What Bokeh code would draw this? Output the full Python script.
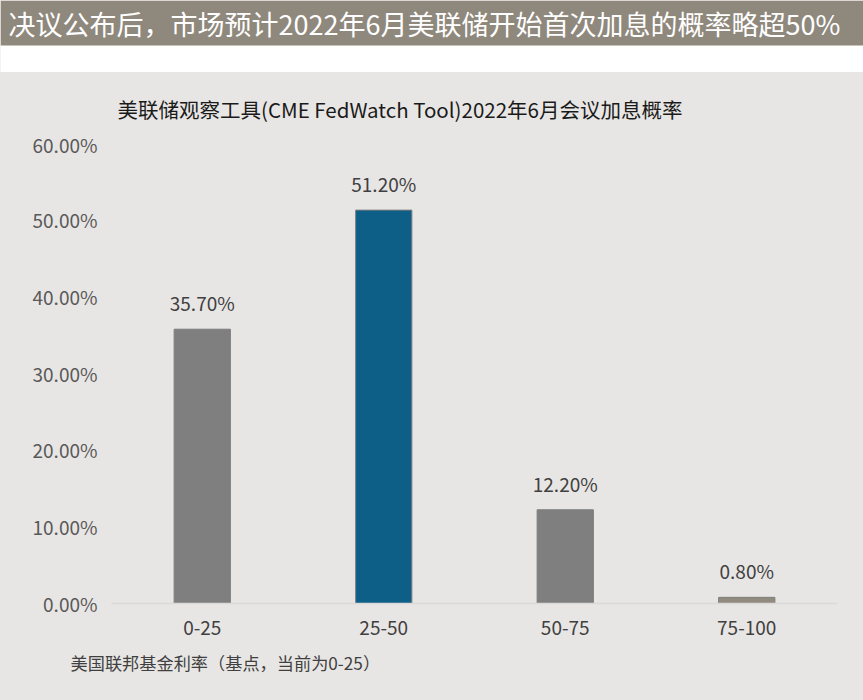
from bokeh.plotting import figure
from bokeh.layouts import column
from bokeh.models import ColumnDataSource, FactorRange, Range1d, NumeralTickFormatter, FixedTicker
from bokeh.core.properties import value
from bokeh.embed import file_html
from bokeh.resources import INLINE

banner_text = "决议公布后，市场预计2022年6月美联储开始首次加息的概率略超50%"
chart_title = "美联储观察工具(CME FedWatch Tool)2022年6月会议加息概率"
footnote = "美国联邦基金利率（基点，当前为0-25）"

categories = ["0-25", "25-50", "50-75", "75-100"]
probabilities = [0.357, 0.512, 0.122, 0.008]
bar_labels = ["35.70%", "51.20%", "12.20%", "0.80%"]
bar_colors = ["#7f7f7f", "#0e5f87", "#7f7f7f", "#918a7f"]
y_ticks = [0.0, 0.1, 0.2, 0.3, 0.4, 0.5, 0.6]

FONT = "Noto Sans CJK SC"
BG = "#e8e6e4"
W = 863


def strip(height, fill):
    f = figure(width=W, height=height, output_backend="svg", toolbar_location=None,
               x_range=Range1d(0, W), y_range=Range1d(height, 0),
               min_border_left=0, min_border_right=0, min_border_top=0, min_border_bottom=0,
               background_fill_color=fill, border_fill_color=fill, outline_line_color=None)
    f.axis.visible = False
    f.grid.visible = False
    return f


# Banner (brown band + white gap)
b = strip(72, "white")
b.quad(left=[0], right=[W], top=[0], bottom=[45], fill_color="#8f887d", line_color=None)
b.text(x=[8], y=[22.5], text=[banner_text], text_font=value(FONT), text_font_size="27px",
       text_color="white", text_baseline="middle", text_align="left")

# Chart title strip
t = strip(58, BG)
t.text(x=[117], y=[36], text=[chart_title], text_font=value(FONT), text_font_size="20.5px",
       text_color="#1a1a1a", text_baseline="middle", text_align="left")

# Main chart
src = ColumnDataSource(dict(cat=categories, val=probabilities, lab=bar_labels, col=bar_colors))
p = figure(width=W, height=520, output_backend="svg", toolbar_location=None,
           x_range=FactorRange(*categories), y_range=Range1d(0, 0.6),
           min_border_left=111, min_border_right=26, min_border_top=12, min_border_bottom=47,
           background_fill_color=BG, border_fill_color=BG, outline_line_color=None)
p.vbar(x="cat", top="val", width=0.31, fill_color="col", line_color="#7f7f7f",
       line_width=1, source=src)
p.text(x="cat", y="val", text="lab", source=src, y_offset=-13, text_baseline="bottom",
       text_align="center", text_font=value(FONT), text_font_size="19px", text_color="#404040")

p.grid.visible = False
p.yaxis.ticker = FixedTicker(ticks=y_ticks)
p.yaxis.formatter = NumeralTickFormatter(format="0.00%")
p.yaxis.axis_line_color = None
p.yaxis.major_tick_line_color = None
p.yaxis.minor_tick_line_color = None
p.yaxis.major_tick_out = 0
p.yaxis.major_tick_in = 0
p.yaxis.major_label_standoff = 14
p.yaxis.major_label_text_font = FONT
p.yaxis.major_label_text_font_size = "19px"
p.yaxis.major_label_text_color = "#595959"

p.xaxis.axis_line_color = "#d9d9d9"
p.xaxis.axis_line_width = 1.5
p.xaxis.major_tick_line_color = None
p.xaxis.minor_tick_line_color = None
p.xaxis.major_tick_out = 0
p.xaxis.major_tick_in = 0
p.xaxis.major_label_standoff = 17
p.xaxis.major_label_text_font = FONT
p.xaxis.major_label_text_font_size = "19px"
p.xaxis.major_label_text_color = "#404040"

# Footnote strip
f = strip(50, BG)
f.text(x=[70], y=[12], text=[footnote], text_font=value(FONT), text_font_size="17.2px",
       text_color="#404040", text_baseline="middle", text_align="left")

layout = column(column(b), column(t), column(p), column(f), spacing=0,
                styles={"background-color": BG})
open("out.html", "w").write(file_html(layout, INLINE))
